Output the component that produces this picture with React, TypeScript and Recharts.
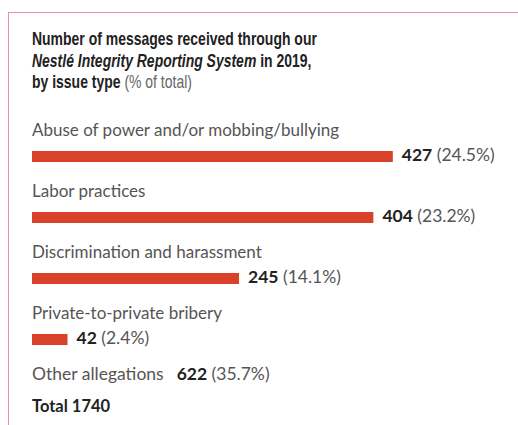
import React from 'react'
import { Bar, BarChart, LabelList, XAxis, YAxis } from 'recharts'

const issueTypes = [
  'Abuse of power and/or mobbing/bullying',
  'Labor practices',
  'Discrimination and harassment',
  'Private-to-private bribery',
  'Other allegations',
]
const messageCounts = [427, 404, 245, 42, 622]
const shareLabels = ['24.5%', '23.2%', '14.1%', '2.4%', '35.7%']
// "Other allegations" is listed without a bar
const drawBar = [true, true, true, true, false]

const rows = issueTypes.map((name, i) => ({
  name,
  count: messageCounts[i],
  share: shareLabels[i],
}))

const total = messageCounts.reduce((a, b) => a + b, 0)

const RED = '#d8422a'
const FONT = 'Lato, "Open Sans", sans-serif'
const TITLE_FONT = '"Liberation Sans", Arial, sans-serif'

const BarShape = (props: any) => {
  const { x, y, width, height, index } = props
  if (!drawBar[index]) return null
  return <rect x={x} y={y} width={width} height={height} fill={RED} />
}

const RowLabel = (props: any) => {
  const { x, y, width, index } = props
  const row = rows[index]
  if (!drawBar[index]) {
    return (
      <text x={x} y={y - 15} fontFamily={FONT} fontSize={17.5} fill="#555">
        {row.name}
        <tspan dx={13} fontWeight={700} fill="#222">{row.count}</tspan>
        <tspan fill="#555"> ({row.share})</tspan>
      </text>
    )
  }
  return (
    <g>
      <text x={x} y={y - 15} fontFamily={FONT} fontSize={17} fill="#555">
        {row.name}
      </text>
      <text x={x + width + 9} y={y + 10} fontFamily={FONT} fontSize={17.5} fill="#555">
        <tspan fontWeight={700} fill="#222">{row.count}</tspan>
        <tspan> ({row.share})</tspan>
      </text>
    </g>
  )
}

const App = () => {
  return (
    <div style={{ position: 'absolute', left: 0, top: 0, width: 518, height: 425, overflow: 'hidden', background: '#fff' }}>
      <div style={{ position: 'absolute', left: 8, top: 12, width: 600, height: 500, borderTop: '1.5px solid #ec8ea3', borderLeft: '1.5px solid #ec8ea3' }} />

      {/* condensed title: regular face squeezed horizontally */}
      <svg width={518} height={100} style={{ position: 'absolute', left: 0, top: 0 }}>
        <g transform="translate(32,0) scale(0.776,1)" fontFamily={TITLE_FONT} fontSize={18} fontWeight={700} fill="#222">
          <text x={0} y={45}>Number of messages received through our</text>
          <text x={0} y={67}>
            <tspan fontStyle="italic">Nestlé Integrity Reporting System</tspan>
            <tspan> in 2019,</tspan>
          </text>
          <text x={0} y={88}>
            <tspan>by issue type </tspan>
            <tspan fontWeight={400} fill="#666">(% of total)</tspan>
          </text>
        </g>
      </svg>

      <div style={{ position: 'absolute', left: 0, top: 0 }}>
        <BarChart
          width={518}
          height={431}
          data={rows}
          layout="vertical"
          margin={{ top: 126, right: 63.5, bottom: 0, left: 32 }}
        >
          <XAxis type="number" domain={[0, 500]} allowDataOverflow hide />
          <YAxis type="category" dataKey="name" hide />
          <Bar dataKey="count" fill={RED} barSize={11} shape={BarShape} isAnimationActive={false}>
            <LabelList dataKey="count" content={RowLabel} />
          </Bar>
        </BarChart>
      </div>

      <div
        style={{
          position: 'absolute',
          left: 32,
          top: 398,
          fontFamily: FONT,
          fontWeight: 700,
          fontSize: 16.5,
          lineHeight: '16px',
          color: '#222',
        }}
      >
        Total {total}
      </div>
    </div>
  )
}

export default App
